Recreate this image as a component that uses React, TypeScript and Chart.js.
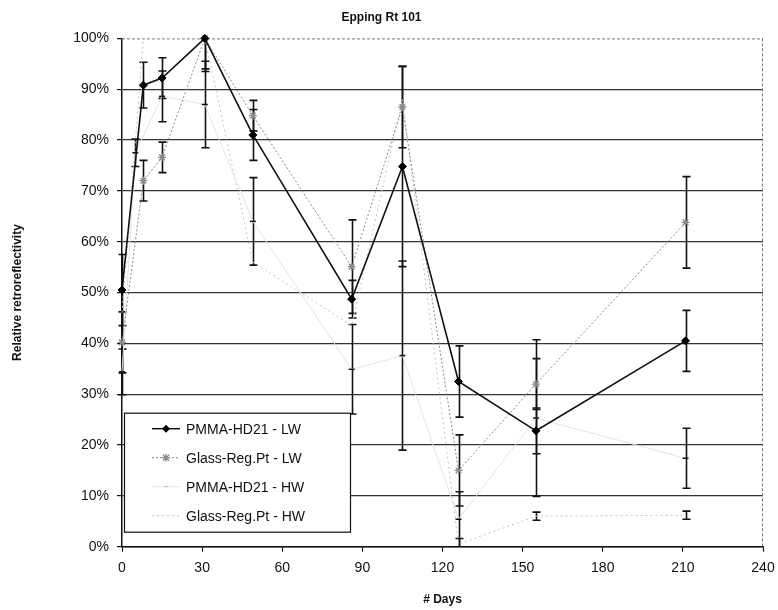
import React, { useEffect, useRef } from "react";
import { Chart, registerables } from "chart.js";

Chart.register(...registerables);

// ---------- text ----------
const TITLE = "Epping Rt 101";
const X_TITLE = "# Days";
const Y_TITLE = "Relative retroreflectivity";
const SERIES_NAMES = [
  "PMMA-HD21 - LW",
  "Glass-Reg.Pt - LW",
  "PMMA-HD21 - HW",
  "Glass-Reg.Pt - HW",
];

// ---------- axes ----------
const X_MIN = 0;
const X_MAX = 240;
const X_STEP = 30;
const Y_MIN = 0;
const Y_MAX = 100;
const Y_STEP = 10;

// ---------- data (days, % relative retroreflectivity, ± error) ----------
const daysLW = [0, 8, 15, 31, 49, 86, 105, 126, 155, 211];
const pmmaLW = [50.5, 90.8, 92.2, 100, 81, 48.7, 74.8, 32.5, 22.8, 40.5];
const pmmaLWErr = [7, 4.5, 4, 6, 5, 3.7, 19.7, 7, 4.5, 6];

const glassLW = [40.2, 72, 76.6, 100, 84.8, 55.1, 86.5, 15, 32, 63.8];
const glassLWErr = [6, 4, 3, 6.5, 3, 9.2, 8, 7, 5, 9];

const daysPmmaHW = [0, 5, 15, 31, 49, 86, 105, 126, 155, 211];
const pmmaHW = [34.4, 77.5, 88.6, 87, 64, 34.9, 37.6, 5.4, 25.3, 17.4];
const pmmaHWErr = [4.5, 2.7, 5, 8.5, 8.6, 8.8, 18.6, 5.4, 15.4, 5.9];

const daysGlassHW = [0, 8, 31, 49, 86, 105, 126, 155, 211];
const glassHW = [46, 100, 100, 56, 43.5, 88, 0.5, 6, 6.2];
const glassHWErr = [0, 0, 0, 0, 0, 0, 1.1, 0.8, 0.8];

const FONT = "'Liberation Sans', Arial, Helvetica, sans-serif";

const toXY = (xs: number[], ys: number[]) => xs.map((x, i) => ({ x, y: ys[i] }));

const ERROR_SETS = [
  { days: daysLW, vals: pmmaLW, errs: pmmaLWErr },
  { days: daysLW, vals: glassLW, errs: glassLWErr },
  { days: daysPmmaHW, vals: pmmaHW, errs: pmmaHWErr },
  { days: daysGlassHW, vals: glassHW, errs: glassHWErr },
];

function drawMarker(ctx: CanvasRenderingContext2D, kind: string, x: number, y: number) {
  ctx.save();
  if (kind === "diamond") {
    ctx.fillStyle = "#000";
    ctx.beginPath();
    ctx.moveTo(x, y - 4);
    ctx.lineTo(x + 4, y);
    ctx.lineTo(x, y + 4);
    ctx.lineTo(x - 4, y);
    ctx.closePath();
    ctx.fill();
  } else if (kind === "star") {
    ctx.strokeStyle = "#8a8a8a";
    ctx.lineWidth = 1.3;
    ctx.beginPath();
    ctx.moveTo(x - 4, y);
    ctx.lineTo(x + 4, y);
    ctx.moveTo(x, y - 4);
    ctx.lineTo(x, y + 4);
    ctx.moveTo(x - 3, y - 3);
    ctx.lineTo(x + 3, y + 3);
    ctx.moveTo(x - 3, y + 3);
    ctx.lineTo(x + 3, y - 3);
    ctx.stroke();
  } else if (kind === "dash") {
    ctx.strokeStyle = "#bbb";
    ctx.lineWidth = 1;
    ctx.beginPath();
    ctx.moveTo(x - 2, y);
    ctx.lineTo(x + 2, y);
    ctx.stroke();
  }
  ctx.restore();
}

const framePlugin = {
  id: "frameAndErrors",
  beforeDatasetsDraw(chart: any) {
    const { ctx, chartArea } = chart;
    const xs = chart.scales.x;
    const ys = chart.scales.y;
    ctx.save();
    // dashed top and right borders of the plot
    ctx.strokeStyle = "#777";
    ctx.lineWidth = 1;
    ctx.setLineDash([3, 2]);
    ctx.beginPath();
    ctx.moveTo(chartArea.left, chartArea.top + 0.5);
    ctx.lineTo(chartArea.right, chartArea.top + 0.5);
    ctx.moveTo(chartArea.right - 0.5, chartArea.top);
    ctx.lineTo(chartArea.right - 0.5, chartArea.bottom);
    ctx.stroke();
    ctx.setLineDash([]);

    // error bars
    ctx.beginPath();
    ctx.rect(chartArea.left - 6, chartArea.top, chartArea.width + 12, chartArea.height);
    ctx.clip();
    ctx.strokeStyle = "#111";
    ctx.lineWidth = 1.6;
    ERROR_SETS.forEach((s) => {
      s.days.forEach((d, i) => {
        const e = s.errs[i];
        if (!e) return;
        const px = Math.round(xs.getPixelForValue(d)) + 0.5;
        const t = ys.getPixelForValue(s.vals[i] + e);
        const b = ys.getPixelForValue(Math.max(s.vals[i] - e, Y_MIN));
        ctx.beginPath();
        ctx.moveTo(px, t);
        ctx.lineTo(px, b);
        ctx.moveTo(px - 4, t);
        ctx.lineTo(px + 4, t);
        ctx.moveTo(px - 4, b);
        ctx.lineTo(px + 4, b);
        ctx.stroke();
      });
    });
    ctx.restore();
  },
  afterDraw(chart: any) {
    const { ctx, chartArea } = chart;
    const left = chartArea.left + 2;
    const top = chartArea.bottom - 134;
    const w = 226;
    const h = 119;
    ctx.save();
    ctx.fillStyle = "#fff";
    ctx.fillRect(left, top, w, h);
    ctx.strokeStyle = "#111";
    ctx.lineWidth = 1.2;
    ctx.strokeRect(left + 0.5, top + 0.5, w, h);
    const rows = [16, 45, 74, 103];
    const styles = [
      { color: "#111", width: 1.5, dash: [] as number[], marker: "diamond" },
      { color: "#8a8a8a", width: 1, dash: [2, 2], marker: "star" },
      { color: "#e6e6e6", width: 1, dash: [] as number[], marker: "dash" },
      { color: "#c4c4c4", width: 1, dash: [2, 3], marker: "" },
    ];
    ctx.font = `14px ${FONT}`;
    ctx.textBaseline = "middle";
    rows.forEach((ry, i) => {
      const y = top + ry;
      const st = styles[i];
      ctx.strokeStyle = st.color;
      ctx.lineWidth = st.width;
      ctx.setLineDash(st.dash);
      ctx.beginPath();
      ctx.moveTo(left + 28, y);
      ctx.lineTo(left + 56, y);
      ctx.stroke();
      ctx.setLineDash([]);
      if (st.marker) drawMarker(ctx, st.marker, left + 42, y);
      ctx.fillStyle = "#111";
      ctx.fillText(SERIES_NAMES[i], left + 62, y + 1);
    });
    ctx.restore();
  },
};

export default function App() {
  const ref = useRef<HTMLCanvasElement | null>(null);

  useEffect(() => {
    if (!ref.current) return;
    const chart = new Chart(ref.current, {
      type: "scatter",
      data: {
        datasets: [
          {
            label: SERIES_NAMES[0],
            data: toXY(daysLW, pmmaLW),
            showLine: true,
            borderColor: "#111",
            borderWidth: 1.6,
            pointStyle: "rectRot",
            pointRadius: 4,
            pointBackgroundColor: "#000",
            pointBorderColor: "#000",
            pointBorderWidth: 1,
            clip: false,
            order: 1,
          },
          {
            label: SERIES_NAMES[1],
            data: toXY(daysLW, glassLW),
            showLine: true,
            borderColor: "#8a8a8a",
            borderWidth: 1,
            borderDash: [2, 2],
            pointStyle: "star",
            pointRadius: 4,
            pointBackgroundColor: "#8a8a8a",
            pointBorderColor: "#8a8a8a",
            pointBorderWidth: 1.3,
            clip: false,
            order: 2,
          },
          {
            label: SERIES_NAMES[2],
            data: toXY(daysPmmaHW, pmmaHW),
            showLine: true,
            borderColor: "#e4e4e4",
            borderWidth: 1,
            pointStyle: "line",
            pointRadius: 3,
            pointBorderColor: "#111",
            pointBorderWidth: 1.5,
            clip: false,
            order: 3,
          },
          {
            label: SERIES_NAMES[3],
            data: toXY(daysGlassHW, glassHW),
            showLine: true,
            borderColor: "#c4c4c4",
            borderWidth: 1,
            borderDash: [2, 3],
            pointRadius: 0,
            clip: false,
            order: 4,
          },
        ],
      },
      options: {
        responsive: false,
        animation: false,
        layout: { padding: { left: 0, right: 15, top: 0, bottom: 0 } },
        plugins: {
          legend: { display: false },
          tooltip: { enabled: false },
          title: {
            display: true,
            text: TITLE,
            color: "#111",
            font: { family: FONT, size: 12, weight: "bold" },
            padding: { top: 10, bottom: 14 },
          },
        },
        scales: {
          x: {
            type: "linear",
            min: X_MIN,
            max: X_MAX,
            afterFit: (s: any) => {
              s.height = 63.3;
              s.paddingRight = 0;
              s.paddingLeft = 0;
            },
            ticks: {
              stepSize: X_STEP,
              color: "#111",
              font: { family: FONT, size: 14 },
              padding: 8,
              maxRotation: 0,
            },
            grid: {
              drawOnChartArea: false,
              drawTicks: true,
              tickLength: 5,
              tickColor: "#111",
              tickWidth: 1.2,
            },
            border: { display: true, color: "#111", width: 1.5 },
            title: {
              display: true,
              text: X_TITLE,
              color: "#111",
              font: { family: FONT, size: 12, weight: "bold" },
              padding: { top: 0, bottom: 3 },
            },
          },
          y: {
            type: "linear",
            min: Y_MIN,
            max: Y_MAX,
            afterFit: (s: any) => {
              s.width = 122;
            },
            ticks: {
              stepSize: Y_STEP,
              color: "#111",
              font: { family: FONT, size: 14 },
              padding: 8,
              callback: (v: any) => `${v}%`,
            },
            grid: {
              color: (c: any) => (c.tick && c.tick.value === Y_MAX ? "rgba(0,0,0,0)" : "#333"),
              lineWidth: 1.2,
              drawTicks: true,
              tickLength: 5,
              tickColor: "#111",
            },
            border: { display: true, color: "#111", width: 1.5 },
            title: {
              display: true,
              text: Y_TITLE,
              color: "#111",
              font: { family: FONT, size: 12, weight: "bold" },
              padding: { top: 10, bottom: 0 },
            },
          },
        },
      },
      plugins: [framePlugin],
    });
    return () => chart.destroy();
  }, []);

  return (
    <div style={{ position: "fixed", left: 0, top: 0, width: 778, height: 610, background: "#fff" }}>
      <canvas ref={ref} width={778} height={610} style={{ width: 778, height: 610, display: "block" }} />
    </div>
  );
}
